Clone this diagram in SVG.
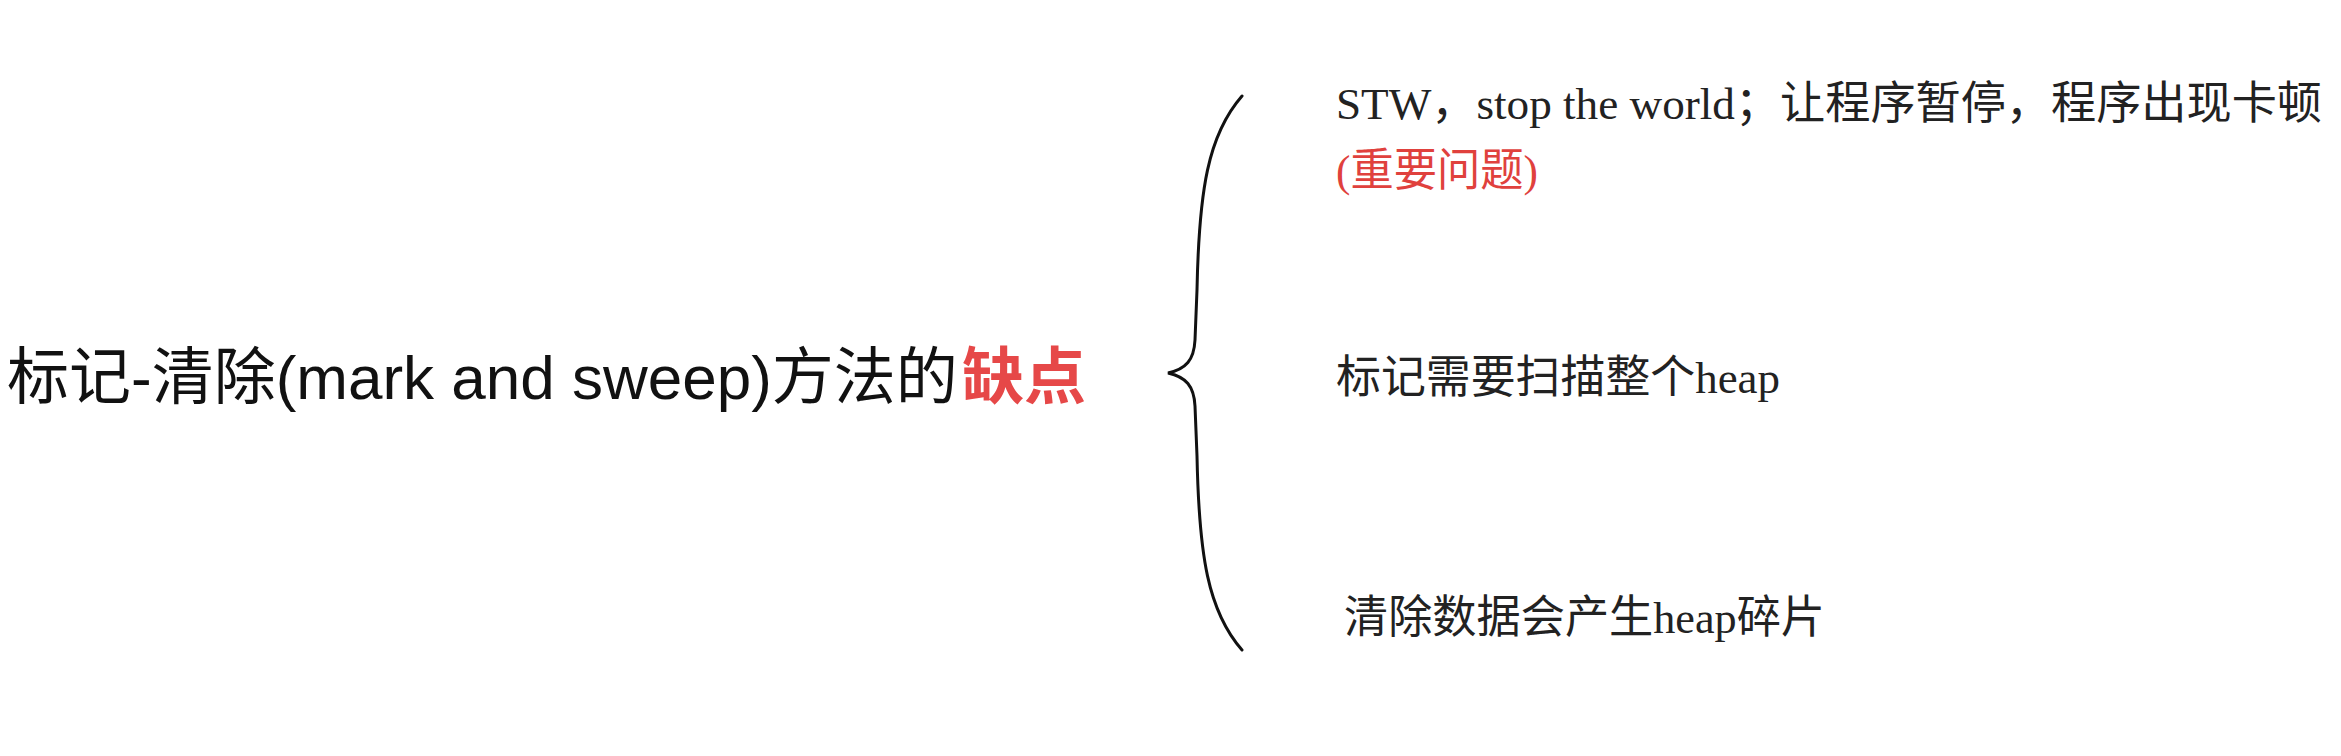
<svg xmlns="http://www.w3.org/2000/svg" width="2341" height="756" viewBox="0 0 2341 756">
<style>
.title{font-family:"Liberation Sans","Noto Sans CJK SC",sans-serif;font-size:62px;fill:#111;}
.red{fill:#e64848;font-weight:bold;}
.item{font-family:"Liberation Serif","Noto Sans CJK SC",serif;font-size:45px;fill:#222;}
.warn{fill:#e0413d;}
.brace{fill:none;stroke:#111;stroke-width:3;stroke-linecap:round;}
</style>
<rect width="2341" height="756" fill="#ffffff"/>
<g id="title">
<text class="title" x="7" y="399">标记-清除(mark and sweep)方法的</text>
<text class="title red" x="962" y="399">缺点</text>
</g>
<g id="connectors">
<path class="brace" d="M1242,96 C1208,135 1199,190 1197,290 L1195,340 C1194,360 1186,369 1168,373 C1186,377 1194,386 1195,406 L1197,456 C1199,556 1208,611 1242,650"/>
</g>
<g id="item1">
<text class="item" x="1336" y="119" textLength="986" lengthAdjust="spacingAndGlyphs">STW，stop the world；让程序暂停，程序出现卡顿</text>
<text class="item warn" x="1336" y="186" textLength="202" lengthAdjust="spacingAndGlyphs">(重要问题)</text>
</g>
<g id="item2">
<text class="item" x="1336" y="393" textLength="444" lengthAdjust="spacingAndGlyphs">标记需要扫描整个heap</text>
</g>
<g id="item3">
<text class="item" x="1344" y="633" textLength="481" lengthAdjust="spacingAndGlyphs">清除数据会产生heap碎片</text>
</g>
</svg>
